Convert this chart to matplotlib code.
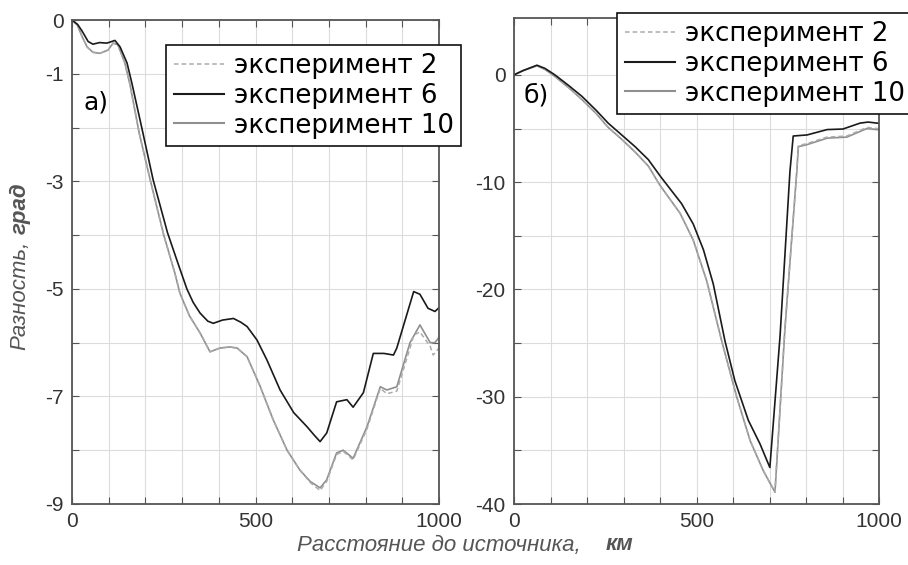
import numpy as np
import matplotlib.pyplot as plt
from matplotlib.lines import Line2D

# a) phase difference, experiments 2 / 6 / 10
xa6 = [0, 15, 27, 44, 57, 75, 95, 117, 131, 150, 163, 190, 221, 260, 290, 313, 330, 349,
       370, 385, 410, 440, 460, 477, 504, 531, 567, 604, 640, 660, 676, 694, 721, 749,
       766, 794, 821, 850, 876, 885, 931, 948, 970, 989, 1000]
ya6 = [0, -0.08, -0.2, -0.4, -0.45, -0.42, -0.43, -0.38, -0.5, -0.8, -1.17, -2.0, -2.97,
       -3.95, -4.55, -5.0, -5.25, -5.45, -5.6, -5.64, -5.58, -5.55, -5.62, -5.7, -5.95,
       -6.32, -6.88, -7.3, -7.56, -7.72, -7.84, -7.68, -7.1, -7.06, -7.2, -6.93, -6.2,
       -6.2, -6.23, -6.1, -5.05, -5.1, -5.36, -5.42, -5.35]

xa10 = [0, 15, 27, 41, 57, 76, 98, 112, 125, 144, 158, 183, 213, 250, 280, 294, 320, 349,
        376, 403, 430, 450, 477, 512, 548, 586, 621, 649, 676, 694, 721, 739, 766, 804,
        840, 858, 885, 921, 948, 976, 989, 1000]
ya10 = [0, -0.1, -0.3, -0.5, -0.6, -0.62, -0.56, -0.43, -0.46, -0.8, -1.2, -2.1, -2.97,
        -4.0, -4.7, -5.08, -5.5, -5.82, -6.17, -6.1, -6.08, -6.1, -6.26, -6.8, -7.43, -8.0,
        -8.37, -8.58, -8.7, -8.55, -8.05, -8.0, -8.15, -7.56, -6.82, -6.88, -6.82, -6.0,
        -5.67, -6.0, -6.0, -5.9]

xa2 = [0, 15, 27, 41, 57, 76, 98, 112, 125, 144, 158, 183, 213, 250, 280, 294, 320, 349,
       376, 403, 430, 450, 477, 512, 548, 586, 621, 649, 676, 694, 721, 739, 766, 804,
       840, 858, 885, 921, 931, 948, 976, 984, 1000]
ya2 = [0, -0.1, -0.3, -0.5, -0.6, -0.62, -0.56, -0.43, -0.46, -0.8, -1.2, -2.1, -2.97,
       -4.0, -4.7, -5.08, -5.5, -5.82, -6.17, -6.1, -6.08, -6.1, -6.26, -6.8, -7.43, -8.0,
       -8.37, -8.6, -8.75, -8.58, -8.08, -8.02, -8.18, -7.6, -6.85, -6.95, -6.9, -6.1,
       -5.86, -5.8, -6.07, -6.23, -6.1]

# б) same experiments, second case
xb6 = [0, 25, 63, 85, 112, 150, 186, 225, 258, 295, 332, 368, 402, 459, 491, 519, 546,
       578, 605, 642, 674, 701, 729, 756, 765, 803, 858, 901, 948, 970, 995, 1000]
yb6 = [0, 0.4, 0.9, 0.6, 0.0, -1.0, -2.0, -3.3, -4.5, -5.6, -6.7, -7.9, -9.5, -12.0,
       -13.9, -16.3, -19.5, -24.8, -28.5, -32.2, -34.4, -36.6, -24.3, -9.0, -5.7, -5.6,
       -5.1, -5.05, -4.5, -4.4, -4.5, -4.5]

xb10 = [0, 25, 63, 85, 112, 150, 186, 225, 258, 295, 332, 368, 400, 455, 491, 528, 569,
        610, 647, 683, 715, 742, 775, 779, 803, 858, 912, 967, 995, 1000]
yb10 = [0, 0.4, 0.85, 0.5, -0.15, -1.2, -2.3, -3.6, -4.9, -6.0, -7.2, -8.5, -10.3, -12.9,
        -15.4, -19.2, -24.8, -30.0, -34.1, -36.9, -38.9, -23.8, -8.9, -6.7, -6.5, -5.9,
        -5.8, -5.0, -5.1, -5.1]

xb2 = xb10
yb2 = [0, 0.4, 0.85, 0.5, -0.15, -1.2, -2.3, -3.6, -4.9, -6.0, -7.2, -8.5, -10.3, -12.9,
       -15.4, -19.2, -24.8, -30.0, -34.1, -36.9, -38.9, -23.8, -8.9, -6.6, -6.4, -5.8,
       -5.7, -4.9, -5.0, -5.0]

labels = ["эксперимент 2", "эксперимент 6", "эксперимент 10"]

c6 = "#1a1a1a"
c10 = "#8f8f8f"
c2 = "#ababab"
grey_txt = "#555555"

fig = plt.figure(figsize=(9.08, 5.65), dpi=100)
ax1 = fig.add_axes([72/908, 61/565, 367/908, 484/565])
ax2 = fig.add_axes([514/908, 61/565, 365/908, 486/565])


def style(ax):
    ax.set_xlim(0, 1000)
    ax.set_xticks(np.arange(0, 1001, 100))
    ax.set_xticklabels(["0", "", "", "", "", "500", "", "", "", "", "1000"])
    ax.grid(True, color="#dcdcdc", lw=0.8)
    ax.set_axisbelow(True)
    ax.tick_params(direction="in", length=5, color=grey_txt, top=True, right=True,
                   labelsize=15, labelcolor="#333333", pad=6)
    for t in ax.get_xticklabels() + ax.get_yticklabels():
        t.set_family("Liberation Sans")
    for s in ax.spines.values():
        s.set_color(grey_txt)
        s.set_linewidth(1.3)


ax1.plot(xa10, ya10, color=c10, lw=1.2)
ax1.plot(xa2, ya2, color=c2, lw=1.1, dashes=(3, 2))
ax1.plot(xa6, ya6, color=c6, lw=1.2)
ax1.set_ylim(-9, 0)
ax1.set_yticks(np.arange(-9, 1, 1))
ax1.set_yticklabels(["-9", "", "-7", "", "-5", "", "-3", "", "-1", "0"])
style(ax1)
ax1.text(0.03, 0.83, "а)", transform=ax1.transAxes, fontsize=18, va="center")

ax2.plot(xb10, yb10, color=c10, lw=1.2)
ax2.plot(xb2, yb2, color=c2, lw=1.1, dashes=(3, 2))
ax2.plot(xb6, yb6, color=c6, lw=1.2)
ax2.set_ylim(-40, 5.3)
ax2.set_yticks(np.arange(-40, 1, 5))
ax2.set_yticklabels(["-40", "", "-30", "", "-20", "", "-10", "", "0"])
style(ax2)
ax2.text(0.027, 0.84, "б)", transform=ax2.transAxes, fontsize=18, va="center")

handles = [Line2D([], [], color=c2, lw=1.1, dashes=(3, 2)),
           Line2D([], [], color=c6, lw=1.5),
           Line2D([], [], color=c10, lw=1.5)]
for anchor in [(166/908, 1 - 45/565), (617/908, 1 - 13/565)]:
    leg = fig.legend(handles, labels, loc="upper left", bbox_to_anchor=anchor,
                     fontsize=18.7, frameon=True, fancybox=False, framealpha=1,
                     edgecolor="#111111", borderpad=0.3, labelspacing=0.15,
                     handlelength=1.95, handletextpad=0.35, borderaxespad=0)
    leg.get_frame().set_linewidth(1.2)

fig.text(0.022, 1 - 350/565, "Разность,", rotation=90, ha="center", va="bottom",
         fontsize=16, style="italic", family="Liberation Sans", color=grey_txt)
fig.text(0.022, 1 - 182/565, "град", rotation=90, ha="center", va="top",
         fontsize=16, style="italic", weight="bold", family="Liberation Sans",
         color=grey_txt)
fig.text(297/908, 1 - 545/565, "Расстояние до источника,", ha="left", va="center",
         fontsize=16, style="italic", family="Liberation Sans", color=grey_txt)
fig.text(633/908, 1 - 545/565, "км", ha="right", va="center",
         fontsize=16, style="italic", weight="bold", family="Liberation Sans",
         color=grey_txt)

fig.savefig("out.png", dpi=100, facecolor="white")
